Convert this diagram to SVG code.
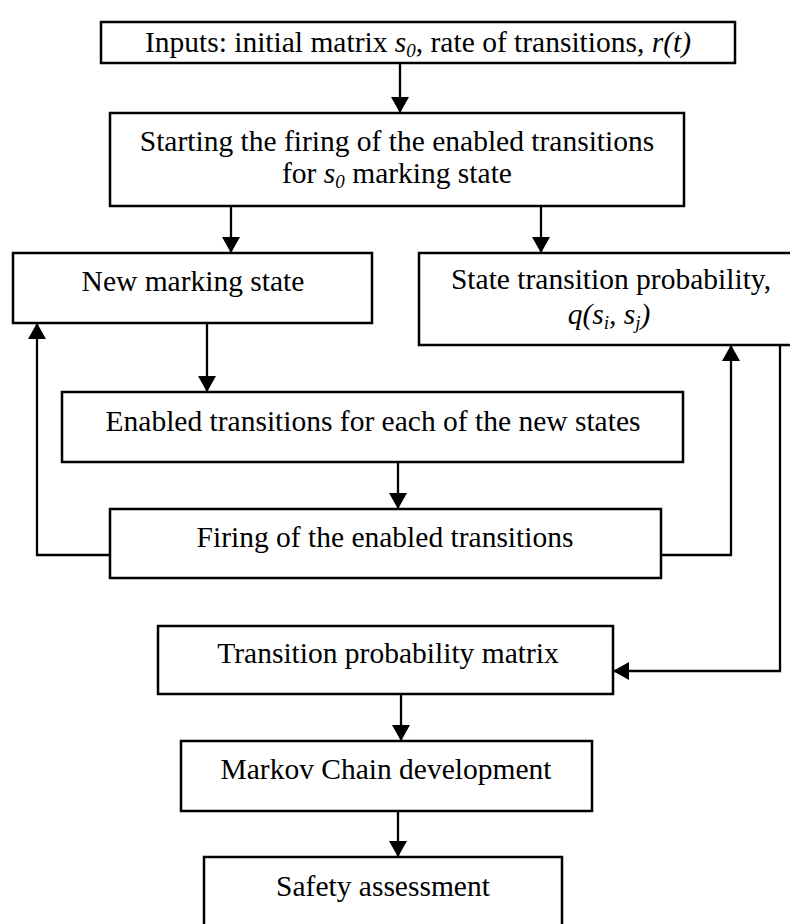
<svg xmlns="http://www.w3.org/2000/svg" width="790" height="924" viewBox="0 0 790 924">
  <style>
    .box { fill: #fff; stroke: #000; stroke-width: 2.5; }
    .lbl { font-family: "Liberation Serif", "Times New Roman", serif; font-size: 29.5px; fill: #000; text-anchor: middle; }
    .it { font-style: italic; }
    .sub { font-style: italic; font-size: 19px; }
    .edge { fill: none; stroke: #000; stroke-width: 2.3; marker-end: url(#head); }
  </style>
  <defs>
    <marker id="head" markerUnits="userSpaceOnUse" markerWidth="16" markerHeight="18" refX="16" refY="9" orient="auto">
      <path d="M0,0 L16,9 L0,18 Z" fill="#000"/>
    </marker>
  </defs>
  <rect width="790" height="924" fill="#fff"/>

  <g id="connectors">
    <path class="edge" d="M400,63 L400,113"/>
    <path class="edge" d="M231,206 L231,253"/>
    <path class="edge" d="M541,206 L541,253"/>
    <path class="edge" d="M207,323 L207,392"/>
    <path class="edge" d="M398,462 L398,509"/>
    <path class="edge" d="M110,555 L37,555 L37,323"/>
    <path class="edge" d="M661,555 L731,555 L731,345"/>
    <path class="edge" d="M780,345 L780,671 L613,671"/>
    <path class="edge" d="M401,694 L401,741"/>
    <path class="edge" d="M398,811 L398,857"/>
  </g>

  <g id="inputs">
    <rect class="box" x="101" y="22" width="634" height="41"/>
    <text class="lbl" x="418" y="52">Inputs: initial matrix <tspan class="it">s</tspan><tspan class="sub" dy="5">0</tspan><tspan dy="-5">, rate of transitions, </tspan><tspan class="it">r(t)</tspan></text>
  </g>

  <g id="start-firing">
    <rect class="box" x="110" y="113" width="574" height="93"/>
    <text class="lbl" x="397" y="151">Starting the firing of the enabled transitions</text>
    <text class="lbl" x="397" y="183">for <tspan class="it">s</tspan><tspan class="sub" dy="5">0</tspan><tspan dy="-5"> marking state</tspan></text>
  </g>

  <g id="new-marking">
    <rect class="box" x="13" y="253" width="359" height="70"/>
    <text class="lbl" x="193" y="291">New marking state</text>
  </g>

  <g id="state-transition">
    <rect class="box" x="419" y="253" width="380" height="92"/>
    <text class="lbl" x="611" y="289">State transition probability,</text>
    <text class="lbl it" x="609" y="324">q(s<tspan class="sub" dy="5">i</tspan><tspan dy="-5">, s</tspan><tspan class="sub" dy="5">j</tspan><tspan dy="-5">)</tspan></text>
  </g>

  <g id="enabled">
    <rect class="box" x="62" y="392" width="621" height="70"/>
    <text class="lbl" x="373" y="431">Enabled transitions for each of the new states</text>
  </g>

  <g id="firing">
    <rect class="box" x="110" y="509" width="551" height="69"/>
    <text class="lbl" x="385" y="547">Firing of the enabled transitions</text>
  </g>

  <g id="matrix">
    <rect class="box" x="158" y="626" width="455" height="68"/>
    <text class="lbl" x="388" y="663">Transition probability matrix</text>
  </g>

  <g id="markov">
    <rect class="box" x="181" y="741" width="411" height="70"/>
    <text class="lbl" x="386" y="779">Markov Chain development</text>
  </g>

  <g id="safety">
    <rect class="box" x="204" y="857" width="358" height="80"/>
    <text class="lbl" x="383" y="896">Safety assessment</text>
  </g>
</svg>
